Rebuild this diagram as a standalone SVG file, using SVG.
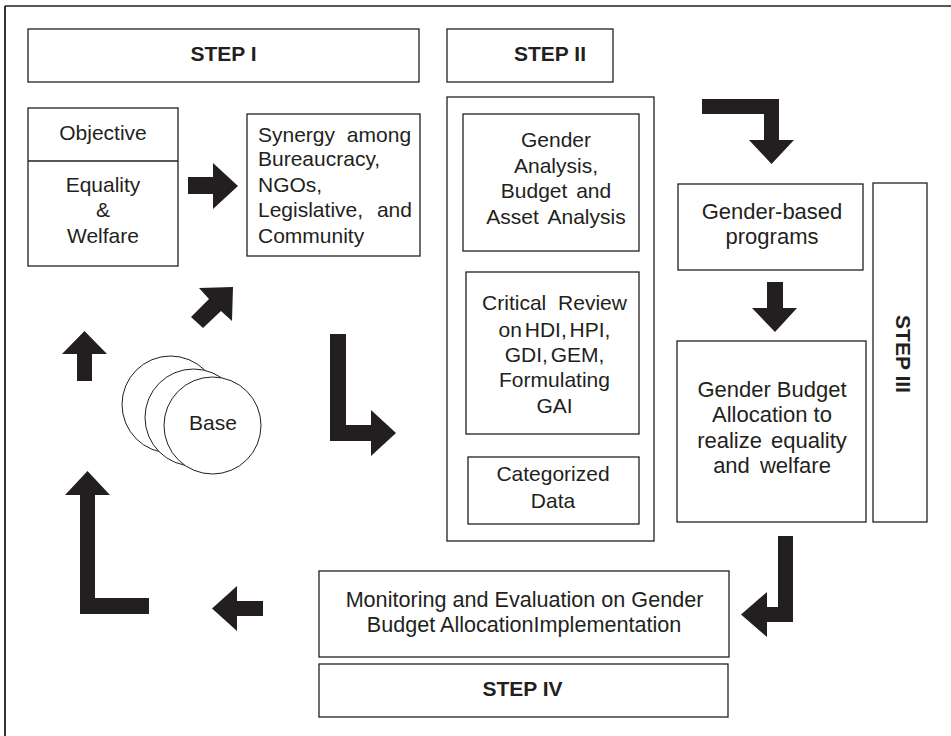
<svg xmlns="http://www.w3.org/2000/svg" width="951" height="736" viewBox="0 0 951 736">
<style>
  .box{fill:#fff;stroke:#231f20;stroke-width:1.3}
  .circ{fill:#fff;stroke:#231f20;stroke-width:1}
  .arr{fill:#231f20;stroke:none}
  text{font-family:"Liberation Sans",Arial,Helvetica,sans-serif;fill:#231f20}
  .t{font-size:21px;text-anchor:middle}
  .t22{font-size:22px;text-anchor:middle}
  .l{font-size:21px;text-anchor:start}
  .step{font-size:21px;font-weight:bold;text-anchor:middle}
</style>
<rect x="0" y="0" width="951" height="736" fill="#fff"/>
<g id="frame">
  <line x1="5" y1="6" x2="951" y2="6" stroke="#231f20" stroke-width="1.5"/>
  <line x1="5" y1="6" x2="5" y2="736" stroke="#231f20" stroke-width="1.8"/>
</g>

<g id="step1">
  <rect class="box" x="28" y="29" width="391" height="53"/>
  <text class="step" x="223.5" y="61">STEP I</text>
</g>
<g id="step2">
  <rect class="box" x="447" y="29" width="166" height="53"/>
  <text class="step" x="550" y="61">STEP II</text>
</g>

<g id="objective">
  <rect class="box" x="28" y="108" width="150" height="158"/>
  <line x1="28" y1="161" x2="178" y2="161" stroke="#231f20" stroke-width="1.3"/>
  <text class="t" x="103" y="140">Objective</text>
  <text class="t" x="103" y="191.5">Equality</text>
  <text class="t" x="103" y="217">&amp;</text>
  <text class="t" x="103" y="242.5">Welfare</text>
</g>

<g id="synergy">
  <rect class="box" x="247" y="114" width="173" height="142"/>
  <text class="l" x="258" y="141.5" word-spacing="6">Synergy among</text>
  <text class="l" x="258" y="166">Bureaucracy,</text>
  <text class="l" x="258" y="191.5">NGOs,</text>
  <text class="l" x="258" y="217" word-spacing="8">Legislative, and</text>
  <text class="l" x="258" y="242.5">Community</text>
</g>

<g id="base">
  <circle class="circ" cx="170.5" cy="404.5" r="48.5"/>
  <circle class="circ" cx="193.5" cy="417.5" r="48.5"/>
  <circle class="circ" cx="212.5" cy="425.5" r="48.5"/>
  <text class="t" x="213" y="429.5">Base</text>
</g>

<g id="step2-panel">
  <rect class="box" x="447" y="97" width="207" height="444"/>
</g>
<g id="gender-analysis">
  <rect class="box" x="463" y="114" width="176" height="137"/>
  <text class="t" x="556" y="146.5">Gender</text>
  <text class="t" x="556" y="172.5">Analysis,</text>
  <text class="t" x="556" y="198" word-spacing="3">Budget and</text>
  <text class="t" x="556" y="223.5" word-spacing="4">Asset Analysis</text>
</g>
<g id="critical-review">
  <rect class="box" x="466" y="272" width="173" height="162"/>
  <text class="t" x="554.5" y="310" word-spacing="6">Critical Review</text>
  <text class="t" x="554.5" y="336.5" word-spacing="-3">on HDI, HPI,</text>
  <text class="t" x="554.5" y="361.5" word-spacing="-3">GDI, GEM,</text>
  <text class="t" x="554.5" y="386.5">Formulating</text>
  <text class="t" x="554.5" y="413">GAI</text>
</g>
<g id="categorized-data">
  <rect class="box" x="468" y="457" width="171" height="67"/>
  <text class="t" x="553" y="480.5">Categorized</text>
  <text class="t" x="553" y="507.5">Data</text>
</g>

<g id="gender-programs">
  <rect class="box" x="678" y="184" width="185" height="86"/>
  <text class="t22" x="772" y="218.5">Gender-based</text>
  <text class="t22" x="772" y="244">programs</text>
</g>
<g id="gender-budget">
  <rect class="box" x="677" y="341" width="189" height="181"/>
  <text class="t22" x="772" y="396.5">Gender Budget</text>
  <text class="t22" x="772" y="422">Allocation to</text>
  <text class="t22" x="772" y="447.5" word-spacing="3">realize equality</text>
  <text class="t22" x="772" y="473" word-spacing="4">and welfare</text>
</g>
<g id="step3">
  <rect class="box" x="873" y="183" width="54" height="339"/>
  <text class="step" transform="translate(895.5,354) rotate(90)" x="0" y="0">STEP III</text>
</g>

<g id="monitoring">
  <rect class="box" x="319" y="571" width="410" height="86"/>
  <text class="t" style="font-size:21.6px" x="524.5" y="607">Monitoring and Evaluation on Gender</text>
  <text class="t" style="font-size:21.6px" x="524" y="631.5">Budget AllocationImplementation</text>
</g>
<g id="step4">
  <rect class="box" x="319" y="664" width="409" height="53"/>
  <text class="step" x="522.5" y="695.5">STEP IV</text>
</g>

<g id="connectors">
  <polygon class="arr" points="188,177 213,177 213,163 238,186 213,209 213,194 188,194"/>
  <polygon class="arr" points="702,99 779,99 779,140 794,140 771.5,164 749,140 764,140 764,114 702,114"/>
  <polygon class="arr" points="767,282 783,282 783,308 797,308 775,332 752,308 767,308"/>
  <polygon class="arr" points="77,381 77,354 62,354 84.5,331 107,354 92,354 92,381"/>
  <polygon class="arr" points="191,317 209,299 199,288 233,287 232,321 221,311 203,328"/>
  <polygon class="arr" points="330,334 346,334 346,425 371,425 371,410 396,433 371,456 371,441 330,441"/>
  <polygon class="arr" points="80,614 80,495 65,495 87.5,471 110,495 95,495 95,598 149,598 149,614"/>
  <polygon class="arr" points="263,601 237,601 237,586 212,608.5 237,631 237,616 263,616"/>
  <polygon class="arr" points="778,536 793,536 793,622 767,622 767,637 741,614.5 767,592 767,607 778,607"/>
</g>
</svg>
